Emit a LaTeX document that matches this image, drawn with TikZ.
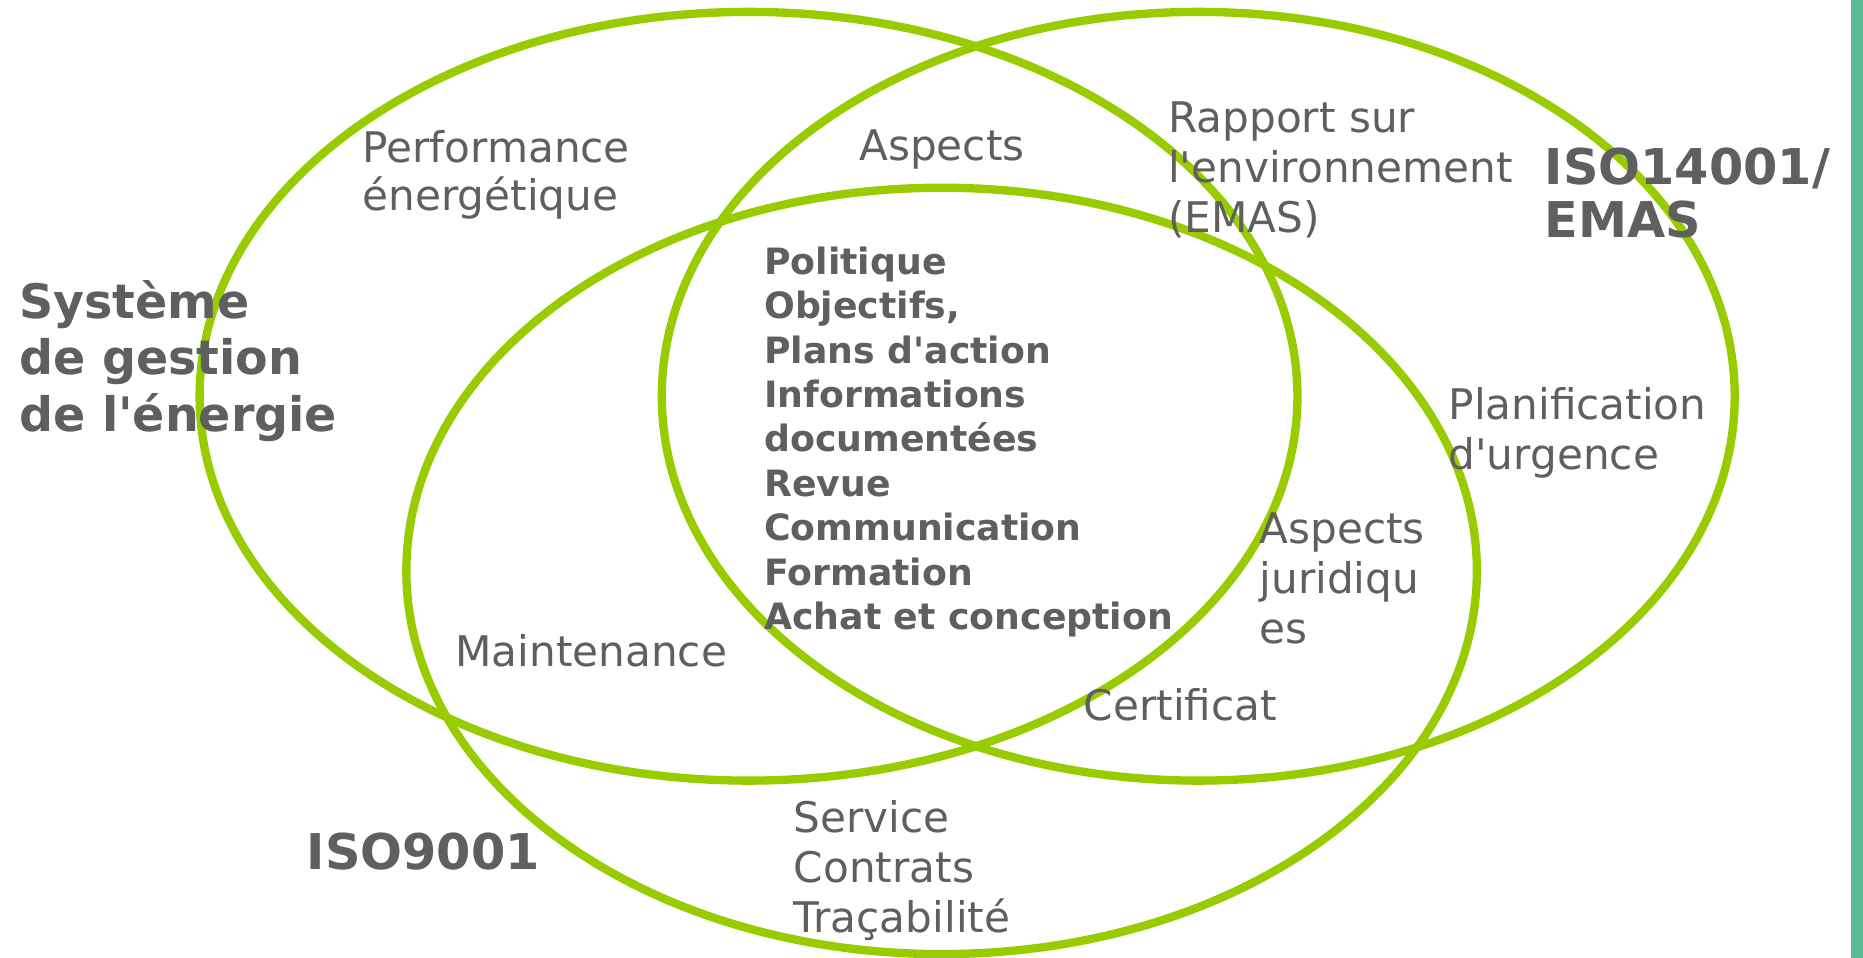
\documentclass[tikz,border=0pt]{standalone}
\usepackage{fontspec}
\newfontfamily\vfont{DejaVu Sans}
\definecolor{vgreen}{HTML}{99CC00}
\definecolor{tgray}{HTML}{5F5F5F}
\definecolor{tealbar}{HTML}{5CB996}
\begin{document}
\begin{tikzpicture}[x=1pt,y=-1pt,
  ring/.style={draw=vgreen,line width=7pt},
  reg/.style={text=tgray,font=\vfont\fontsize{35.5}{42.3}\selectfont,anchor=base west,inner sep=0pt,align=left},
  bld/.style={text=tgray,font=\vfont\bfseries\fontsize{30.5}{37.4}\selectfont,anchor=base west,inner sep=0pt,align=left},
  ttl/.style={text=tgray,font=\vfont\bfseries\fontsize{40}{47.5}\selectfont,anchor=base west,inner sep=0pt,align=left}]
\useasboundingbox (0,0) rectangle (1568,806);
\fill[white] (0,0) rectangle (1568,806);
\fill[tealbar] (1558,0) rectangle (1568,806);
\draw[ring] (630,333.5) ellipse [x radius=462, y radius=323.5];
\draw[ring] (1008.5,333.5) ellipse [x radius=451.5, y radius=323.5];
\draw[ring] (792.5,480.5) ellipse [x radius=450.5, y radius=322.5];
% multi-line nodes: base anchor = baseline of the last line
\node[reg,font=\vfont\fontsize{35.5}{40}\selectfont] (perf) at (305,177) {Performance\\énergétique};
\node[reg] (asp) at (723,135) {Aspects};
\node[reg] (rapp) at (983,196) {Rapport sur\\l'environnement\\(EMAS)};
\node[ttl,font=\vfont\bfseries\fontsize{41.5}{45}\selectfont] (iso14) at (1300,200) {ISO14001/\\EMAS};
\node[ttl] (sme) at (16,363) {Système\\de gestion\\de l'énergie};
\node[bld] (core) at (643,530) {Politique\\Objectifs,\\Plans d'action\\Informations\\documentées\\Revue\\Communication\\Formation\\Achat et conception};
\node[reg] (plan) at (1219,395) {Planification\\d'urgence};
\node[reg] (jur) at (1060,542) {Aspects\\juridiqu\\es};
\node[reg] (cert) at (912,606) {Certificat};
\node[reg] (maint) at (383,561) {Maintenance};
\node[reg] (serv) at (668,785) {Service\\Contrats\\Traçabilité};
\node[ttl,font=\vfont\bfseries\fontsize{41.5}{45}\selectfont] (iso9) at (258,732) {ISO9001};
\end{tikzpicture}
\end{document}
